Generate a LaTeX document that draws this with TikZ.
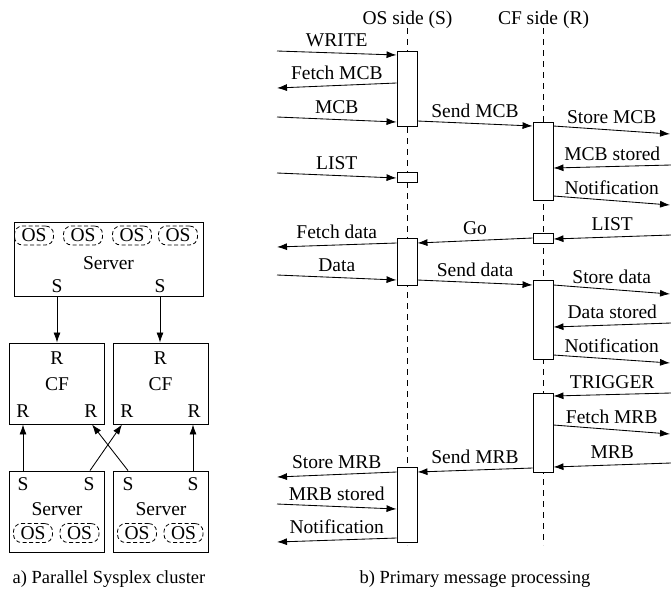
\documentclass[tikz,border=0pt]{standalone}
\usepackage{fontspec}
\setmainfont{Liberation Serif}
\usetikzlibrary{arrows.meta}
\begin{document}
\begin{tikzpicture}[x=1pt,y=-1pt,
  txt/.style={font=\fontsize{19.5}{23}\selectfont, inner sep=0pt, anchor=base},
  captxt/.style={font=\fontsize{18.5}{22}\selectfont, inner sep=0pt, anchor=base},
  box/.style={draw, line width=0.9pt, inner sep=0pt, fill=white},
  act/.style={box, minimum width=20pt},
  osbox/.style={draw, line width=0.8pt, dash pattern=on 4pt off 2.5pt, rounded corners=8pt,
    minimum width=39pt, minimum height=19pt, inner sep=0pt, text height=12.9pt, text depth=0pt,
    font=\fontsize{19.5}{23}\selectfont},
  msg/.style={-{Latex[length=10pt,width=7pt]}, line width=0.85pt},
  lab/.style={txt, midway, yshift=6.5pt},
  lifeline/.style={dash pattern=on 6pt off 5pt, line width=0.8pt}
]
\useasboundingbox (0,0) rectangle (671,590);

% ---------------- a) Parallel Sysplex cluster ----------------
\node[box, minimum width=189pt, minimum height=74pt] (srvT) at (108.5,259) {};
\node[osbox] (o1) at (34,235.5) {OS};
\node[osbox] (o2) at (83,235.5) {OS};
\node[osbox] (o3) at (132,235.5) {OS};
\node[osbox] (o4) at (178,235.5) {OS};
\node[txt] (tS) at (108.5,269) {Server};
\node[txt] (tS1) at (57,292) {S};
\node[txt] (tS2) at (160,292) {S};

\node[box, minimum width=95pt, minimum height=81pt] (cfL) at (56.5,383.5) {};
\node[box, minimum width=95pt, minimum height=81pt] (cfR) at (160.5,383.5) {};
\node[txt] (cl1) at (57,364) {R};
\node[txt] (cl2) at (57,390) {CF};
\node[txt] (cl3) at (23,417) {R};
\node[txt] (cl4) at (91,417) {R};
\node[txt] (cr1) at (160.5,364) {R};
\node[txt] (cr2) at (160.5,390) {CF};
\node[txt] (cr3) at (127,417) {R};
\node[txt] (cr4) at (194,417) {R};

\node[box, minimum width=95pt, minimum height=81pt] (srvL) at (56.5,511.5) {};
\node[box, minimum width=95pt, minimum height=81pt] (srvR) at (160.5,511.5) {};
\node[txt] (sl1) at (23,490) {S};
\node[txt] (sl2) at (89,490) {S};
\node[txt] (sl3) at (57,515) {Server};
\node[osbox] (ol1) at (33,533) {OS};
\node[osbox] (ol2) at (79.5,533) {OS};
\node[txt] (sr1) at (128,490) {S};
\node[txt] (sr2) at (193,490) {S};
\node[txt] (sr3) at (161,515) {Server};
\node[osbox] (or1) at (137,533) {OS};
\node[osbox] (or2) at (183.5,533) {OS};

\draw[msg] (srvT.south -| 57,0) -- (cfL.north -| 57,0);
\draw[msg] (srvT.south -| 160,0) -- (cfR.north -| 160,0);
\draw[msg] (srvL.north -| 23,0) -- (cfL.south -| 23,0);
\draw[msg] (srvR.north -| 193,0) -- (cfR.south -| 193,0);
\draw[msg] (srvL.north -| 90,0) -- (cfR.south -| 122,0);
\draw[msg] (srvR.north -| 128,0) -- (cfL.south -| 92,0);

\node[captxt] (capA) at (109,583) {a) Parallel Sysplex cluster};

% ---------------- b) Primary message processing ----------------
\node[txt] (hOS) at (407.5,24) {OS side (S)};
\node[txt] (hCF) at (543.5,24) {CF side (R)};
\coordinate (llOSt) at (407,28);
\coordinate (llOSb) at (407,545);
\coordinate (llCFt) at (543,28);
\coordinate (llCFb) at (543,545);
\draw[lifeline] (llOSt) -- (llOSb);
\draw[lifeline] (llCFt) -- (llCFb);

\node[act, minimum height=75pt] (os1) at (407,88.5) {};
\node[act, minimum height=10pt] (os2) at (407,177) {};
\node[act, minimum height=47pt] (os3) at (407,261.5) {};
\node[act, minimum height=75pt] (os4) at (407,504.5) {};
\node[act, minimum height=78pt] (cf1) at (543,161) {};
\node[act, minimum height=10pt] (cf2) at (543,238) {};
\node[act, minimum height=79pt] (cf3) at (543,319.5) {};
\node[act, minimum height=79pt] (cf4) at (543,432.5) {};

% free ends
\coordinate (a1) at (277,51);
\coordinate (a2) at (277,88);
\coordinate (a3) at (277,117);
\coordinate (a4) at (277,173);
\coordinate (a5) at (277,247);
\coordinate (a6) at (277,275);
\coordinate (a7) at (277,477);
\coordinate (a8) at (277,504);
\coordinate (a9) at (277,542);
\coordinate (b1) at (670,134);
\coordinate (b2) at (671,165);
\coordinate (b3) at (670,205);
\coordinate (b4) at (671,235);
\coordinate (b5) at (670,294);
\coordinate (b6) at (671,323);
\coordinate (b7) at (670,363);
\coordinate (b8) at (671,393);
\coordinate (b9) at (670,434);
\coordinate (b10) at (671,463);

\draw[msg] (a1) -- (os1.west |- 0,55) node[lab] {WRITE};
\draw[msg] (os1.west |- 0,83) -- (a2) node[lab] {Fetch MCB};
\draw[msg] (a3) -- (os1.west |- 0,122) node[lab] {MCB};
\draw[msg] (os1.east |- 0,121) -- (cf1.west |- 0,126) node[lab] {Send MCB};
\draw[msg] (cf1.east |- 0,126) -- (b1) node[lab] {Store MCB};
\draw[msg] (b2) -- (cf1.east |- 0,168) node[lab] {MCB stored};
\draw[msg] (cf1.east |- 0,196) -- (b3) node[lab] {Notification};
\draw[msg] (a4) -- (os2.west |- 0,178) node[lab] {LIST};
\draw[msg] (b4) -- (cf2.east |- 0,239) node[lab] {LIST};
\draw[msg] (cf2.west |- 0,238) -- (os3.east |- 0,243) node[lab] {Go};
\draw[msg] (os3.west |- 0,243) -- (a5) node[lab] {Fetch data};
\draw[msg] (a6) -- (os3.west |- 0,280) node[lab] {Data};
\draw[msg] (os3.east |- 0,280) -- (cf3.west |- 0,285) node[lab] {Send data};
\draw[msg] (cf3.east |- 0,285) -- (b5) node[lab] {Store data};
\draw[msg] (b6) -- (cf3.east |- 0,327) node[lab] {Data stored};
\draw[msg] (cf3.east |- 0,355) -- (b7) node[lab] {Notification};
\draw[msg] (b8) -- (cf4.east |- 0,396) node[lab] {TRIGGER};
\draw[msg] (cf4.east |- 0,425) -- (b9) node[lab] {Fetch MRB};
\draw[msg] (b10) -- (cf4.east |- 0,467) node[lab] {MRB};
\draw[msg] (cf4.west |- 0,468) -- (os4.east |- 0,472) node[lab] {Send MRB};
\draw[msg] (os4.west |- 0,472) -- (a7) node[lab] {Store MRB};
\draw[msg] (a8) -- (os4.west |- 0,509) node[lab] {MRB stored};
\draw[msg] (os4.west |- 0,538) -- (a9) node[lab] {Notification};

\node[captxt] (capB) at (475,583) {b) Primary message processing};
\end{tikzpicture}
\end{document}
